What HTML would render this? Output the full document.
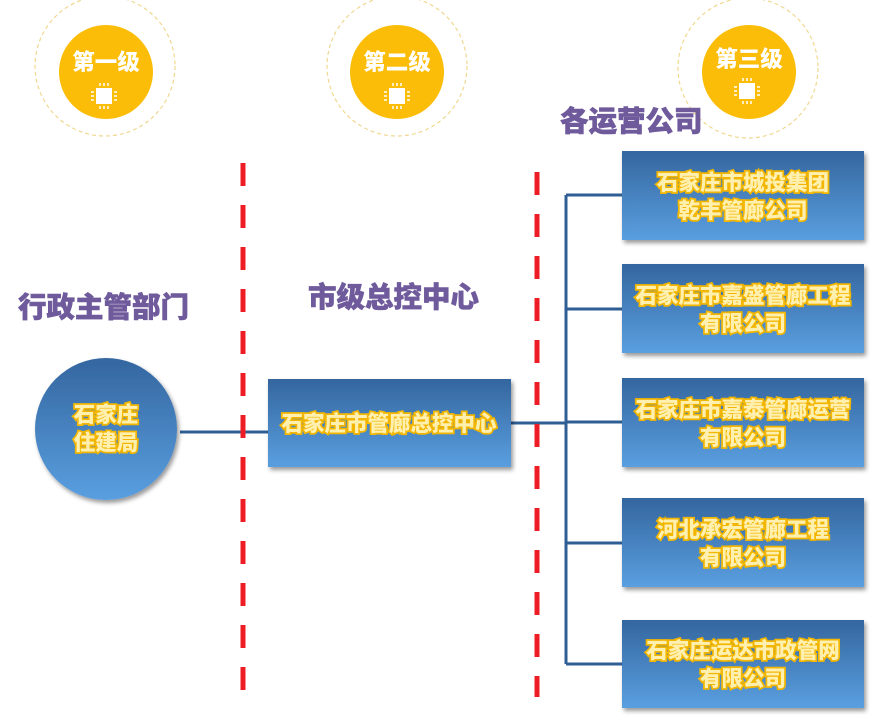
<!DOCTYPE html>
<html><head><meta charset="utf-8"><style>
html,body{margin:0;padding:0;background:#fff;}
svg text{font-family:"Liberation Sans","Noto Sans CJK SC",sans-serif;font-weight:900;}
.bt{fill:#fff0b0;font-size:21.5px;stroke:#f3b600;stroke-width:3.5px;paint-order:stroke;}
.lb{fill:#6f5a9c;font-size:28.5px;stroke:#6f5a9c;stroke-width:0.6px;}
.ct{fill:#fff;font-size:22.5px;}
</style></head><body>
<svg width="890" height="723" viewBox="0 0 890 723">
<defs>
<linearGradient id="g" x1="0" y1="0" x2="0" y2="1"><stop offset="0" stop-color="#34669f"/><stop offset="1" stop-color="#5a9fe0"/></linearGradient>
<filter id="sh" x="-10%" y="-10%" width="130%" height="130%"><feDropShadow dx="2" dy="3" stdDeviation="2" flood-color="#000" flood-opacity="0.4"/></filter>
<g id="chip"><rect x="-8" y="-8" width="16" height="16" fill="#fff"/>
<path d="M-4 -10v-3M0 -10v-3M4 -10v-3M-4 10v3M0 10v3M4 10v3M-10 -4h-3M-10 0h-3M-10 4h-3M10 -4h3M10 0h3M10 4h3" stroke="#fff" stroke-width="1.5"/></g>
</defs>
<g fill="none" stroke="#f0d890" stroke-width="1.2" stroke-dasharray="4 3">
<circle cx="105" cy="66" r="70"/><circle cx="397" cy="66" r="70"/><circle cx="748" cy="68" r="70"/>
</g>
<g fill="#fbbd07"><circle cx="106" cy="72" r="47"/><circle cx="397" cy="72" r="47"/><circle cx="749" cy="72" r="47"/></g>
<text class="ct" x="106" y="70" text-anchor="middle">第一级</text>
<text class="ct" x="397" y="70" text-anchor="middle">第二级</text>
<text class="ct" x="749" y="67" text-anchor="middle">第三级</text>
<use href="#chip" x="104" y="96"/><use href="#chip" x="397" y="96"/><use href="#chip" x="747" y="91"/>
<text class="lb" x="18" y="317">行政主管部门</text>
<text class="lb" x="308" y="307">市级总控中心</text>
<text class="lb" x="560" y="131">各运营公司</text>
<g stroke="#2f5e94" stroke-width="3" fill="none">
<line x1="180" y1="432" x2="268" y2="432"/>
<line x1="511" y1="423" x2="566" y2="423"/>
<line x1="566" y1="195" x2="566" y2="664"/>
<line x1="566" y1="195" x2="622" y2="195"/>
<line x1="566" y1="309" x2="622" y2="309"/>
<line x1="566" y1="422" x2="622" y2="422"/>
<line x1="566" y1="543" x2="622" y2="543"/>
<line x1="566" y1="664" x2="622" y2="664"/>
</g>
<g stroke="#ee1c25" stroke-width="5" stroke-dasharray="23 19">
<line x1="243" y1="163" x2="243" y2="692"/>
<line x1="537" y1="172" x2="537" y2="697"/>
</g>
<circle cx="106" cy="429" r="71" fill="url(#g)" filter="url(#sh)"/>
<text class="bt" x="106" y="422" text-anchor="middle">石家庄</text>
<text class="bt" x="106" y="450" text-anchor="middle">住建局</text>
<rect x="268" y="379" width="243" height="88" fill="url(#g)" filter="url(#sh)"/>
<text class="bt" x="389" y="431" text-anchor="middle">石家庄市管廊总控中心</text>
<g filter="url(#sh)" fill="url(#g)">
<rect x="622" y="151" width="242" height="89"/>
<rect x="622" y="264" width="242" height="89"/>
<rect x="622" y="378" width="242" height="89"/>
<rect x="622" y="498" width="242" height="89"/>
<rect x="622" y="620" width="242" height="88"/>
</g>
<g text-anchor="middle">
<text class="bt" x="743" y="190">石家庄市城投集团</text><text class="bt" x="743" y="218">乾丰管廊公司</text>
<text class="bt" x="743" y="303">石家庄市嘉盛管廊工程</text><text class="bt" x="743" y="331">有限公司</text>
<text class="bt" x="743" y="417">石家庄市嘉泰管廊运营</text><text class="bt" x="743" y="445">有限公司</text>
<text class="bt" x="743" y="537">河北承宏管廊工程</text><text class="bt" x="743" y="565">有限公司</text>
<text class="bt" x="743" y="658">石家庄运达市政管网</text><text class="bt" x="743" y="686">有限公司</text>
</g>
</svg>
</body></html>
